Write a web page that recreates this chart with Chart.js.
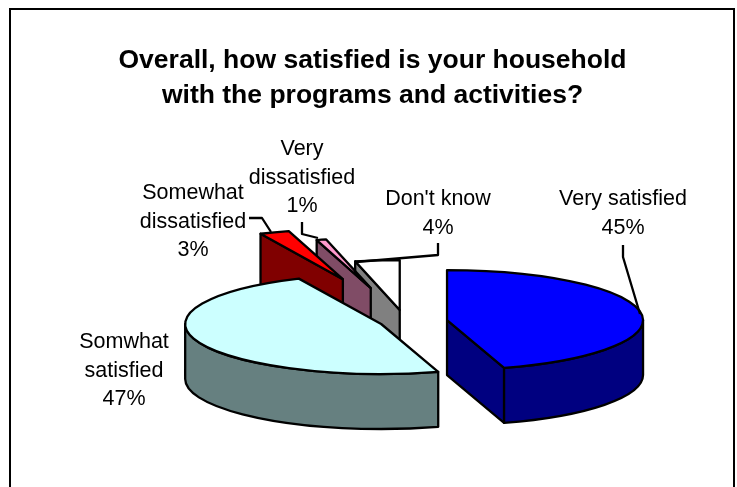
<!DOCTYPE html>
<html>
<head>
<meta charset="utf-8">
<script src="https://cdn.jsdelivr.net/npm/chart.js@4"></script>
<style>
  html, body { margin: 0; padding: 0; background: #fff; overflow: hidden; }
  #wrap { width: 737px; height: 487px; }
</style>
</head>
<body>
<div id="wrap"><canvas id="pie"></canvas></div>
<script>
const titleLines = ["Overall, how satisfied is your household", "with the programs and activities?"];
const categories = ["Very satisfied", "Somwhat satisfied", "Somewhat dissatisfied", "Very dissatisfied", "Don't know"];
// slice sizes as measured on the drawing, percentLabels as printed next to them
const shares = [45.3, 47.8, 2.45, 0.8, 3.65];
const percentLabels = ["45%", "47%", "3%", "1%", "4%"];

const topColors = ["#0000ff", "#ccffff", "#ff0000", "#ff99cc", "#ffffff"];
const wallColors = ["#000080", "#668080", "#800000", "#804c66", "#808080"];
// how far each slice is pulled out, before the squash
const explode = [42.5, 25.5, 178, 136, 46];
const drawOrder = [4, 3, 2, 1, 0];

const squash = 50 / 196;
const wallDepth = 55;
const pieShiftX = 32.5;
const lineW = 2.3;

// text blocks (x centre, first baseline) and their leader lines, one per slice
const labelBlocks = [
  { x: 623, y: 205, lines: ["Very satisfied"], leader: [[623, 245], [623, 257], [640, 314]] },
  { x: 124, y: 348, lines: ["Somwhat", "satisfied"], leader: [] },
  { x: 193, y: 199, lines: ["Somewhat", "dissatisfied"], leader: [[249, 218], [262, 218], [271, 232]] },
  { x: 302, y: 155, lines: ["Very", "dissatisfied"], leader: [[302, 222], [302, 234], [318, 238]] },
  { x: 438, y: 205, lines: ["Don't know"], leader: [[438, 243], [438, 255], [356, 262]] }
];

class Pie3dController extends Chart.PieController {
  draw() {
    const ctx = this.chart.ctx;
    const arcs = this._cachedMeta.data;
    drawOrder.forEach(i => {
      const arc = arcs[i];
      const mid = (arc.startAngle + arc.endAngle) / 2;
      const cx = arc.x + pieShiftX + Math.cos(mid) * explode[i];
      const cy = arc.y + Math.sin(mid) * explode[i] * squash;
      drawWalls(ctx, arc, cx, cy, wallColors[i]);

      ctx.save();
      ctx.translate(cx, cy);
      ctx.scale(1, squash);
      ctx.translate(-arc.x, -arc.y);
      arc.draw(ctx);
      ctx.restore();

      ctx.beginPath();
      slicePath(ctx, arc, cx, cy);
      ctx.strokeStyle = "#000";
      ctx.lineWidth = lineW;
      ctx.lineJoin = "round";
      ctx.stroke();
    });
  }
}
Pie3dController.id = "pie3d";
Pie3dController.defaults = Chart.PieController.defaults;
Chart.register(Pie3dController);

function slicePath(ctx, arc, cx, cy) {
  const r = arc.outerRadius, ry = r * squash;
  ctx.moveTo(cx, cy);
  ctx.ellipse(cx, cy, r, ry, 0, arc.startAngle, arc.endAngle);
  ctx.closePath();
}

function cutFace(ctx, arc, cx, cy, angle, color) {
  const r = arc.outerRadius, ry = r * squash;
  const ex = cx + Math.cos(angle) * r, ey = cy + Math.sin(angle) * ry;
  ctx.beginPath();
  ctx.moveTo(cx, cy);
  ctx.lineTo(ex, ey);
  ctx.lineTo(ex, ey + wallDepth);
  ctx.lineTo(cx, cy + wallDepth);
  ctx.closePath();
  ctx.fillStyle = color;
  ctx.fill();
  ctx.stroke();
}

function drawWalls(ctx, arc, cx, cy, color) {
  const r = arc.outerRadius, ry = r * squash;
  const a0 = arc.startAngle, a1 = arc.endAngle;
  ctx.strokeStyle = "#000";
  ctx.lineWidth = lineW;
  ctx.lineJoin = "round";
  // flat cut faces, only the ones turned to the viewer
  if (Math.cos(a0) < 0) cutFace(ctx, arc, cx, cy, a0, color);
  if (Math.cos(a1) > 0) cutFace(ctx, arc, cx, cy, a1, color);
  // round outer wall, lower half of the ellipse only
  const from = Math.max(a0, 0), to = Math.min(a1, Math.PI);
  if (to > from) {
    ctx.beginPath();
    ctx.ellipse(cx, cy, r, ry, 0, from, to);
    ctx.ellipse(cx, cy + wallDepth, r, ry, 0, to, from, true);
    ctx.closePath();
    ctx.fillStyle = color;
    ctx.fill();
    ctx.stroke();
  }
}

const framePlugin = {
  id: "frame",
  beforeDraw(chart) {
    const ctx = chart.ctx;
    ctx.save();
    ctx.strokeStyle = "#000";
    ctx.lineWidth = 2;
    ctx.strokeRect(10, 9, 724, 500);
    ctx.restore();
  }
};

const labelPlugin = {
  id: "sliceLabels",
  afterDraw(chart) {
    const ctx = chart.ctx;
    ctx.save();
    ctx.font = "21.5px 'Liberation Sans'";
    ctx.fillStyle = "#000";
    ctx.strokeStyle = "#000";
    ctx.lineWidth = 2.3;
    ctx.textAlign = "center";
    ctx.textBaseline = "alphabetic";
    labelBlocks.forEach((block, i) => {
      const text = block.lines.concat(percentLabels[i]);
      text.forEach((t, n) => ctx.fillText(t, block.x, block.y + n * 28.5));
      if (block.leader.length) {
        ctx.beginPath();
        block.leader.forEach((p, n) => n ? ctx.lineTo(p[0], p[1]) : ctx.moveTo(p[0], p[1]));
        ctx.stroke();
      }
    });
    ctx.restore();
  }
};

new Chart(document.getElementById("pie"), {
  type: "pie3d",
  data: {
    labels: categories,
    datasets: [{
      data: shares,
      backgroundColor: topColors,
      borderWidth: 0,
      radius: 196,
      clip: false
    }]
  },
  options: {
    responsive: true,
    maintainAspectRatio: false,
    animation: false,
    events: [],
    layout: { padding: { left: 8, right: 0, top: 0, bottom: 0 } },
    plugins: {
      legend: { display: false },
      tooltip: { enabled: false },
      title: {
        display: true,
        text: titleLines,
        color: "#000",
        font: { family: "'Liberation Sans'", size: 26.5, weight: "bold", lineHeight: 1.29 },
        padding: { top: 44, bottom: 44 }
      }
    }
  },
  plugins: [framePlugin, labelPlugin]
});
</script>
</body>
</html>
